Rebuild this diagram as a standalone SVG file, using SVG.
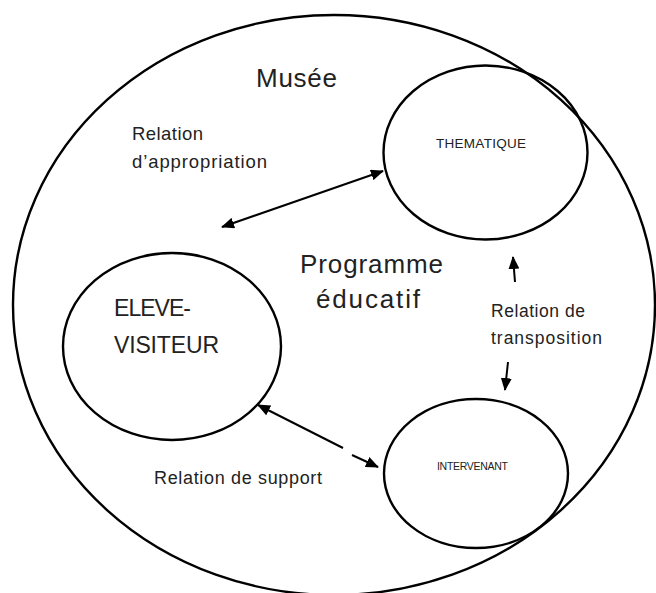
<svg xmlns="http://www.w3.org/2000/svg" width="656" height="593" viewBox="0 0 656 593">
<style>
.c{fill:none;stroke:#000;stroke-width:2.4}
.t{font-family:"Liberation Sans",Arial,sans-serif;fill:#222}
.a{stroke:#000;stroke-width:2;fill:none}
</style>
<defs>
<marker id="ah" markerUnits="userSpaceOnUse" markerWidth="13" markerHeight="11" refX="12" refY="5.5" orient="auto-start-reverse">
<path d="M0,0 L13,5.5 L0,11 z" fill="#000"/>
</marker>
</defs>
<rect width="656" height="593" fill="#fff"/>
<g id="musee">
<ellipse class="c" cx="334" cy="305" rx="321" ry="290"/>
<text class="t" x="256" y="87" font-size="26" textLength="81" lengthAdjust="spacing">Musée</text>
</g>
<g id="thematique">
<ellipse class="c" cx="485.5" cy="152.5" rx="102" ry="87"/>
<text class="t" x="436" y="148" font-size="13.5" textLength="90" lengthAdjust="spacing">THEMATIQUE</text>
</g>
<g id="eleve">
<ellipse class="c" cx="172" cy="346.5" rx="109" ry="93.5"/>
<text class="t" x="114" y="316" font-size="23" textLength="77" lengthAdjust="spacing">ELEVE-</text>
<text class="t" x="114" y="353" font-size="23" textLength="105" lengthAdjust="spacing">VISITEUR</text>
</g>
<g id="intervenant">
<ellipse class="c" cx="476" cy="473.5" rx="92" ry="74.5"/>
<text class="t" x="437" y="470" font-size="10.5" textLength="71" lengthAdjust="spacing">INTERVENANT</text>
</g>
<g id="programme">
<text class="t" x="300" y="273" font-size="26" textLength="143" lengthAdjust="spacing">Programme</text>
<text class="t" x="316" y="308" font-size="26" textLength="104" lengthAdjust="spacing">éducatif</text>
</g>
<g id="labels">
<text class="t" x="132" y="140" font-size="18.5" textLength="71" lengthAdjust="spacing">Relation</text>
<text class="t" x="132" y="168" font-size="18.5" textLength="135" lengthAdjust="spacing">d’appropriation</text>
<text class="t" x="491" y="317" font-size="17.5" textLength="94" lengthAdjust="spacing">Relation de</text>
<text class="t" x="491" y="344" font-size="17.5" textLength="111" lengthAdjust="spacing">transposition</text>
<text class="t" x="154" y="484" font-size="18" textLength="168" lengthAdjust="spacing">Relation de support</text>
</g>
<g id="connectors">
<line class="a" x1="222" y1="227" x2="383" y2="171" marker-start="url(#ah)" marker-end="url(#ah)"/>
<line class="a" x1="515" y1="282" x2="513" y2="257" marker-end="url(#ah)"/>
<line class="a" x1="508" y1="362" x2="505" y2="390" marker-end="url(#ah)"/>
<line class="a" x1="343" y1="448" x2="258" y2="405" stroke-width="2.6" marker-end="url(#ah)"/>
<line class="a" x1="352" y1="455" x2="378" y2="467" marker-end="url(#ah)"/>
</g>
</svg>
